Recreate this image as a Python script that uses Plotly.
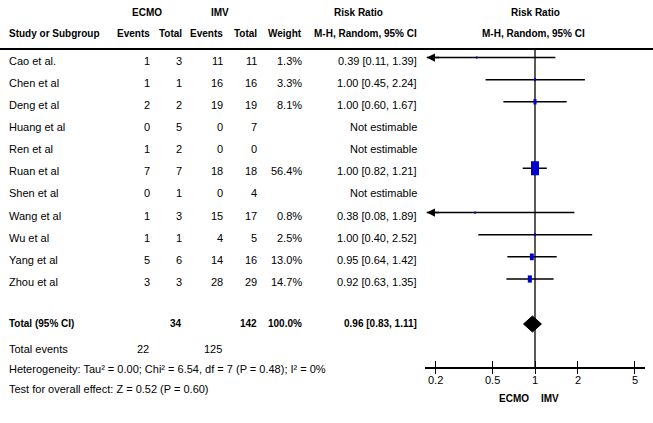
import numpy as np
import plotly.graph_objects as go

# ---------------- data ----------------
studies = ["Cao et al.", "Chen et al", "Deng et al", "Huang et al", "Ren et al", "Ruan et al",
           "Shen et al", "Wang et al", "Wu et al", "Yang et al", "Zhou et al"]
ecmo_events = [1, 1, 2, 0, 1, 7, 0, 1, 1, 5, 3]
ecmo_total = [3, 1, 2, 5, 2, 7, 1, 3, 1, 6, 3]
imv_events = [11, 16, 19, 0, 0, 18, 0, 15, 4, 14, 28]
imv_total = [11, 16, 19, 7, 0, 18, 4, 17, 5, 16, 29]
weights = [1.3, 3.3, 8.1, None, None, 56.4, None, 0.8, 2.5, 13.0, 14.7]
rr = [0.39, 1.00, 1.00, None, None, 1.00, None, 0.38, 1.00, 0.95, 0.92]
ci_lo = [0.11, 0.45, 0.60, None, None, 0.82, None, 0.08, 0.40, 0.64, 0.63]
ci_hi = [1.39, 2.24, 1.67, None, None, 1.21, None, 1.89, 2.52, 1.42, 1.35]

total_ecmo = 34
total_imv = 142
total_weight = 100.0
total_rr = 0.96
total_lo = 0.83
total_hi = 1.11
events_ecmo = 22
events_imv = 125
heterogeneity = "Heterogeneity: Tau² = 0.00; Chi² = 6.54, df = 7 (P = 0.48); I² = 0%"
overall = "Test for overall effect: Z = 0.52 (P = 0.60)"

tick_vals = [0.2, 0.5, 1, 2, 5]
tick_text = ["0.2", "0.5", "1", "2", "5"]

# ---------------- layout helpers ----------------
W, H = 653, 423
ROW0, ROWH = 57.5, 22.15   # pixel y of first row, row spacing


def r(py):
    """pixel y -> row units"""
    return (py - ROW0) / ROWH


def px(x):
    return x / W


FONT = "Liberation Sans, Arial, sans-serif"
FS = 11
FSH = 10
TXT_OFF = 3.0 / ROWH
XMIN, XMAX = -0.772, 0.772

fig = go.Figure()
ann = []


def text(x, y, s, anchor="left", bold=False, xref="paper", size=FS):
    ann.append(dict(x=x, y=y, xref=xref, yref="y", text=(f"<b>{s}</b>" if bold else s),
                    showarrow=False, xanchor=anchor, yanchor="middle", borderpad=0,
                    font=dict(family=FONT, size=size, color="black")))


# headers
hy1, hy2 = r(12), r(33)
text(px(147), hy1, "ECMO", "center", True, size=FSH)
text(px(220), hy1, "IMV", "center", True, size=FSH)
text(px(358), hy1, "Risk Ratio", "center", True, size=FSH)
text(px(535), hy1, "Risk Ratio", "center", True, size=FSH)
text(px(8), hy2, "Study or Subgroup", "left", True, size=FSH)
col_right = [150, 182, 223, 257, 302]
for cx, lab in zip(col_right, ["Events", "Total", "Events", "Total", "Weight"]):
    text(px(cx + 1), hy2, lab, "right", True, size=FSH)
text(px(418), hy2, "M-H, Random, 95% CI", "right", True, size=FSH)
text(px(533), hy2, "M-H, Random, 95% CI", "center", True, size=FSH)

# study rows
for i, name in enumerate(studies):
    ty = i + TXT_OFF
    text(px(8), ty, name, "left")
    vals = [ecmo_events[i], ecmo_total[i], imv_events[i], imv_total[i]]
    for cx, v in zip(col_right[:4], vals):
        text(px(cx + 1), ty, str(v), "right")
    if weights[i] is not None:
        text(px(303), ty, f"{weights[i]:.1f}%", "right")
        text(px(418), ty, f"{rr[i]:.2f} [{ci_lo[i]:.2f}, {ci_hi[i]:.2f}]", "right")
    else:
        text(px(418), ty, "Not estimable", "right")

# total rows
ty = r(323)
text(px(8), ty, "Total (95% CI)", "left", True, size=FSH)
text(px(183), ty, str(total_ecmo), "right", True, size=FSH)
text(px(258), ty, str(total_imv), "right", True, size=FSH)
text(px(303), ty, f"{total_weight:.1f}%", "right", True, size=FSH)
text(px(418), ty, f"{total_rr:.2f} [{total_lo:.2f}, {total_hi:.2f}]", "right", True, size=FSH)
ty = r(349)
text(px(8), ty, "Total events", "left")
text(px(150), ty, str(events_ecmo), "right")
text(px(223), ty, str(events_imv), "right")
text(px(8), r(369), heterogeneity, "left")
text(px(8), r(389), overall, "left")

# tick labels of the forest axis
for tv, tt in zip(tick_vals, tick_text):
    text(float(np.log10(tv)), r(380), tt, "center", False, xref="x")

# ECMO / IMV labels under axis
text(-0.035, r(398), "ECMO", "right", True, xref="x", size=FSH)
text(0.035, r(398), "IMV", "left", True, xref="x", size=FSH)

# ---------------- forest marks ----------------
lx, ly = [], []
for i in range(len(studies)):
    if rr[i] is None:
        continue
    lo = np.log10(ci_lo[i])
    hi = np.log10(ci_hi[i])
    clipped = lo < XMIN
    x0 = XMIN + 0.012 if clipped else lo
    lx += [x0, min(hi, XMAX), None]
    ly += [i, i, None]
    if clipped:
        ann.append(dict(x=x0, y=i, ax=x0 + 0.1, ay=i, xref="x", yref="y", axref="x", ayref="y",
                        showarrow=True, arrowhead=2, arrowsize=1.1, arrowwidth=1.5,
                        arrowcolor="black", text=""))
fig.add_trace(go.Scatter(x=lx, y=ly, mode="lines", line=dict(color="black", width=1.5),
                         hoverinfo="skip", showlegend=False))

shapes = []
# vertical line of no effect
shapes.append(dict(type="line", xref="x", yref="y", x0=0, x1=0, y0=r(49), y1=r(368),
                   line=dict(color="black", width=1.3)))
# header rule
shapes.append(dict(type="line", xref="paper", yref="y", x0=0, x1=1, y0=r(49), y1=r(49),
                   line=dict(color="black", width=2)))
# weight squares
for i in range(len(studies)):
    if rr[i] is None:
        continue
    s = np.sqrt(weights[i])
    w = max(1.6, 1.07 * s)
    h = max(2.2, 1.87 * s)
    shapes.append(dict(type="rect", xref="x", yref="y", xsizemode="pixel", ysizemode="pixel",
                       xanchor=np.log10(rr[i]), yanchor=i, x0=-w / 2, x1=w / 2, y0=-h / 2, y1=h / 2,
                       fillcolor="#0000CC", line=dict(width=0)))

# diamond
dy = r(324)
hh = 8.0 / ROWH
fig.add_trace(go.Scatter(
    x=[np.log10(total_lo), np.log10(total_rr), np.log10(total_hi), np.log10(total_rr), np.log10(total_lo)],
    y=[dy, dy - hh, dy, dy + hh, dy], mode="lines", fill="toself", fillcolor="black",
    line=dict(color="black", width=1), hoverinfo="skip", showlegend=False))

ax_pos = 1 - 368 / H
dom = [425 / W, 645 / W]
fig.update_layout(
    width=W, height=H, margin=dict(l=0, r=0, t=0, b=0),
    paper_bgcolor="white", plot_bgcolor="white",
    annotations=ann, shapes=shapes, showlegend=False,
    xaxis=dict(domain=dom, range=[XMIN, XMAX], anchor="free", position=ax_pos,
               tickvals=list(np.log10(tick_vals)), showticklabels=False, ticks="outside", ticklen=5,
               tickcolor="black", tickwidth=1, showline=True, linecolor="black", linewidth=2,
               showgrid=False, zeroline=False),
    xaxis2=dict(domain=dom, range=[XMIN, XMAX], anchor="free", position=ax_pos, overlaying="x",
                tickvals=list(np.log10(tick_vals)), ticks="inside", ticklen=7, tickcolor="black",
                tickwidth=1, showticklabels=False, showline=False, showgrid=False, zeroline=False),
    yaxis=dict(domain=[0, 1], range=[r(H), r(0)], visible=False, showgrid=False, zeroline=False),
)
fig.add_trace(go.Scatter(x=[None], y=[None], xaxis="x2", showlegend=False, hoverinfo="skip"))

fig.write_html("out.html", config={"displayModeBar": False},
               post_script="document.body.style.margin='0px';")
